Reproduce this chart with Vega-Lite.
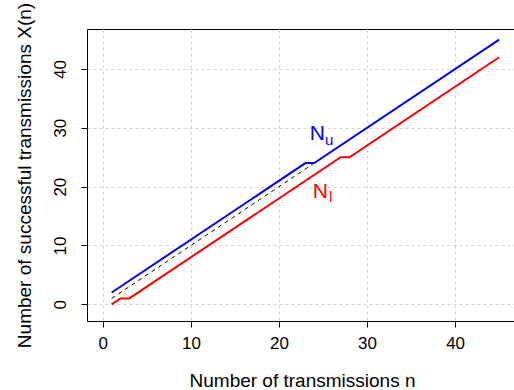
{
  "$schema": "https://vega.github.io/schema/vega-lite/v6.json",
  "width": 428,
  "height": 292,
  "autosize": {"type": "none"},
  "padding": {"left": 87, "top": 29, "right": 0, "bottom": 69},
  "background": "white",
  "config": {
    "font": "Liberation Sans",
    "view": {"stroke": "black", "strokeWidth": 1},
    "axis": {
      "grid": true,
      "gridColor": "#d3d3d3",
      "gridDash": [3, 3],
      "gridWidth": 1,
      "domain": false,
      "ticks": true,
      "tickColor": "black",
      "tickSize": 6,
      "tickWidth": 1,
      "labelColor": "black",
      "labelFont": "Liberation Sans",
      "labelFontSize": 17,
      "titleFont": "Liberation Sans",
      "titleFontSize": 19,
      "titleFontWeight": "normal",
      "titleColor": "black"
    }
  },
  "datasets": {
    "lines": [
      {"series": "Nu", "n": 1, "x": 2},
      {"series": "Nu", "n": 23, "x": 24},
      {"series": "Nu", "n": 24, "x": 24},
      {"series": "Nu", "n": 45, "x": 45},
      {"series": "Nl", "n": 1, "x": 0},
      {"series": "Nl", "n": 2, "x": 1},
      {"series": "Nl", "n": 3, "x": 1},
      {"series": "Nl", "n": 27, "x": 25},
      {"series": "Nl", "n": 28, "x": 25},
      {"series": "Nl", "n": 45, "x": 42},
      {"series": "ref", "n": 1, "x": 1},
      {"series": "ref", "n": 24, "x": 24}
    ],
    "mainLabels": [
      {"series": "Nu", "label": "N", "n": 24.35, "x": 28.0},
      {"series": "Nl", "label": "N", "n": 24.69, "x": 18.03}
    ],
    "subLabels": [
      {"series": "Nu", "label": "u", "n": 25.7, "x": 27.15},
      {"series": "Nl", "label": "l", "n": 25.88, "x": 17.35}
    ]
  },
  "encoding": {
    "x": {
      "field": "n",
      "type": "quantitative",
      "scale": {"domain": [-1.8, 46.8], "nice": false, "zero": false},
      "axis": {
        "values": [0, 10, 20, 30, 40],
        "title": "Number of transmissions n",
        "labelPadding": 8,
        "titleX": 215,
        "titleY": 65,
        "titleBaseline": "alphabetic",
        "titleAlign": "center"
      }
    },
    "y": {
      "field": "x",
      "type": "quantitative",
      "scale": {"domain": [-2.84, 46.8], "nice": false, "zero": false},
      "axis": {
        "values": [0, 10, 20, 30, 40],
        "title": "Number of successful transmissions X(n)",
        "labelAngle": -90,
        "labelAlign": "center",
        "labelBaseline": "alphabetic",
        "labelPadding": 16,
        "titleAngle": -90,
        "titleX": -57,
        "titleY": 146,
        "titleAlign": "center",
        "titleBaseline": "alphabetic"
      }
    }
  },
  "layer": [
    {
      "data": {"name": "lines"},
      "transform": [{"filter": "datum.series === 'ref'"}],
      "mark": {"type": "line", "color": "black", "strokeWidth": 1, "strokeDash": [4, 4]}
    },
    {
      "data": {"name": "lines"},
      "transform": [{"filter": "datum.series === 'Nu'"}],
      "mark": {"type": "line", "color": "#0000ff", "strokeWidth": 2}
    },
    {
      "data": {"name": "lines"},
      "transform": [{"filter": "datum.series === 'Nl'"}],
      "mark": {"type": "line", "color": "#ff0000", "strokeWidth": 2}
    },
    {
      "data": {"name": "mainLabels"},
      "mark": {"type": "text", "fontSize": 21, "align": "center", "baseline": "alphabetic", "font": "Liberation Sans"},
      "encoding": {
        "text": {"field": "label"},
        "color": {"field": "series", "type": "nominal", "scale": {"domain": ["Nu", "Nl"], "range": ["#0000ff", "#ff0000"]}, "legend": null}
      }
    },
    {
      "data": {"name": "subLabels"},
      "mark": {"type": "text", "fontSize": 15, "align": "center", "baseline": "alphabetic", "font": "Liberation Sans"},
      "encoding": {
        "text": {"field": "label"},
        "color": {"field": "series", "type": "nominal", "scale": {"domain": ["Nu", "Nl"], "range": ["#0000ff", "#ff0000"]}, "legend": null}
      }
    }
  ]
}
